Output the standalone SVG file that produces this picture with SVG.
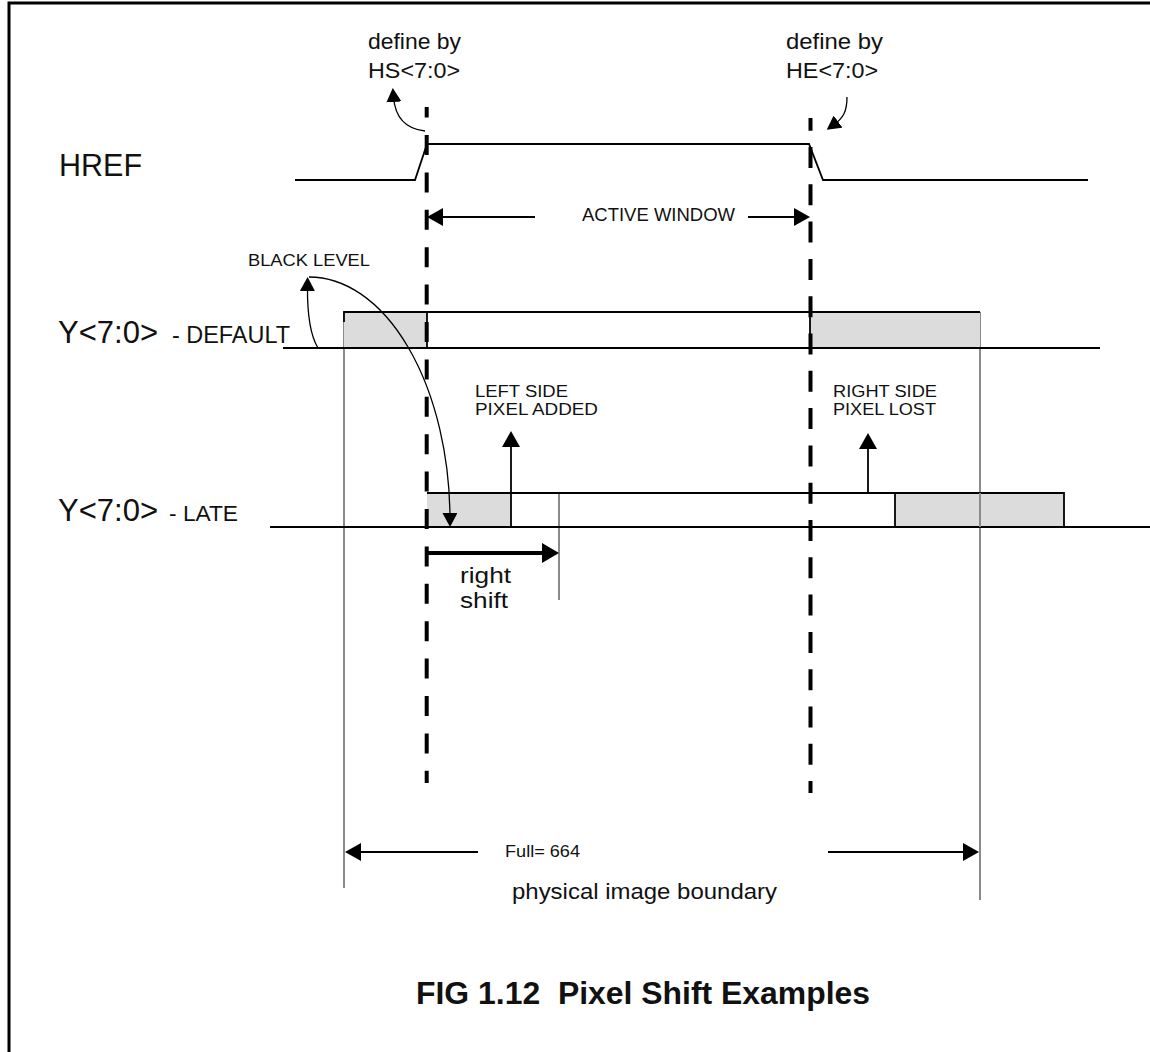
<svg xmlns="http://www.w3.org/2000/svg" width="1150" height="1052" viewBox="0 0 1150 1052">
<defs>
<style>
text{font-family:"Liberation Sans",Arial,sans-serif;fill:#111}
.sig{fill:none;stroke:#000;stroke-width:1.8}
.grey{fill:none;stroke:#8a8a8a;stroke-width:2}
.box{fill:#dcdcdc;stroke:none}
.dash{fill:none;stroke:#000;stroke-width:4}
.arr{fill:none;stroke:#000;stroke-width:1.8;marker-end:url(#ah)}
.thin{fill:none;stroke:#000;stroke-width:1.3;marker-end:url(#ahs)}
</style>
<marker id="ah" markerUnits="userSpaceOnUse" markerWidth="16" markerHeight="18" viewBox="0 0 16 18" refX="6" refY="9" orient="auto"><path d="M0,0 L16,9 L0,18 z" fill="#000"/></marker>
<marker id="ahb" markerUnits="userSpaceOnUse" markerWidth="17" markerHeight="20" viewBox="0 0 17 20" refX="6" refY="10" orient="auto"><path d="M0,0 L17,10 L0,20 z" fill="#000"/></marker>
<marker id="ahs" markerUnits="userSpaceOnUse" markerWidth="14" markerHeight="15" viewBox="0 0 14 15" refX="5" refY="7.5" orient="auto"><path d="M0,0 L14,7.5 L0,15 z" fill="#000"/></marker>
</defs>
<rect width="1150" height="1052" fill="#fff"/>
<g id="frame"><path d="M9,1052 V3 H1150" fill="none" stroke="#000" stroke-width="3"/></g>

<g id="boundary">
<line class="grey" x1="344" y1="312" x2="344" y2="888"/>
<line class="grey" x1="980" y1="312" x2="980" y2="900"/>
<line class="grey" x1="559" y1="493" x2="559" y2="600"/>
</g>

<g id="href">
<text x="59" y="176" font-size="32" textLength="83" lengthAdjust="spacingAndGlyphs">HREF</text>
<polyline class="sig" points="295,180 415,180 427,144 809,144 823,180 1088,180"/>
</g>

<g id="y-default">
<text x="58" y="343" font-size="32" textLength="100" lengthAdjust="spacingAndGlyphs">Y&lt;7:0&gt;</text>
<text x="172" y="343" font-size="24" textLength="118" lengthAdjust="spacingAndGlyphs">- DEFAULT</text>
<rect class="box" x="344" y="312" width="83" height="36"/>
<rect class="box" x="810" y="312" width="170" height="36"/>
<line class="sig" x1="344" y1="312" x2="980" y2="312"/>
<line class="sig" x1="283" y1="348" x2="1100" y2="348"/>
<line class="sig" x1="344" y1="311" x2="344" y2="322"/>
<line class="sig" x1="427" y1="312" x2="427" y2="348"/>
<line class="sig" x1="810" y1="312" x2="810" y2="348"/>
</g>

<g id="y-late">
<text x="58" y="521" font-size="31" textLength="100" lengthAdjust="spacingAndGlyphs">Y&lt;7:0&gt;</text>
<text x="169" y="521" font-size="22" textLength="69" lengthAdjust="spacingAndGlyphs">- LATE</text>
<rect class="box" x="427" y="493" width="84" height="34"/>
<rect class="box" x="895" y="493" width="169" height="34"/>
<line class="sig" x1="427" y1="493" x2="1064" y2="493"/>
<line class="sig" x1="270" y1="527" x2="1150" y2="527"/>
<line class="sig" x1="511" y1="493" x2="511" y2="527"/>
<line class="sig" x1="895" y1="493" x2="895" y2="527"/>
<line class="sig" x1="1064" y1="492" x2="1064" y2="527"/>
<line class="grey" x1="980" y1="493" x2="980" y2="527"/>
</g>

<g id="hs-marker">
<line class="dash" x1="426.7" y1="107" x2="426.7" y2="783" stroke-dasharray="20 17.4" stroke-dashoffset="9.4"/>
<text x="368" y="49" font-size="22" textLength="93" lengthAdjust="spacingAndGlyphs">define by</text>
<text x="368" y="78" font-size="22" textLength="92" lengthAdjust="spacingAndGlyphs">HS&lt;7:0&gt;</text>
</g>

<g id="he-marker">
<line class="dash" x1="810.5" y1="118" x2="810.5" y2="793" stroke-dasharray="21 16.3" stroke-dashoffset="8.3"/>
<text x="786" y="49" font-size="22" textLength="97" lengthAdjust="spacingAndGlyphs">define by</text>
<text x="786" y="78" font-size="22" textLength="92" lengthAdjust="spacingAndGlyphs">HE&lt;7:0&gt;</text>
</g>

<g id="labels">
<text x="582" y="221" font-size="17.5" textLength="153" lengthAdjust="spacingAndGlyphs">ACTIVE WINDOW</text>
<text x="248" y="266" font-size="17" textLength="122" lengthAdjust="spacingAndGlyphs">BLACK LEVEL</text>
<text x="475" y="397" font-size="16" textLength="93" lengthAdjust="spacingAndGlyphs">LEFT SIDE</text>
<text x="475" y="415" font-size="16" textLength="123" lengthAdjust="spacingAndGlyphs">PIXEL ADDED</text>
<text x="833" y="397" font-size="16" textLength="104" lengthAdjust="spacingAndGlyphs">RIGHT SIDE</text>
<text x="833" y="415" font-size="16" textLength="103" lengthAdjust="spacingAndGlyphs">PIXEL LOST</text>
<text x="460" y="583" font-size="22" textLength="51" lengthAdjust="spacingAndGlyphs">right</text>
<text x="460" y="608" font-size="22" textLength="48" lengthAdjust="spacingAndGlyphs">shift</text>
<text x="505" y="857" font-size="16.5" textLength="75" lengthAdjust="spacingAndGlyphs">Full= 664</text>
<text x="512" y="899" font-size="22" textLength="265" lengthAdjust="spacingAndGlyphs">physical image boundary</text>
<text x="416" y="1004" font-size="32" font-weight="bold" textLength="454" lengthAdjust="spacingAndGlyphs" xml:space="preserve">FIG 1.12  Pixel Shift Examples</text>
</g>

<g id="connectors">
<line class="arr" x1="535" y1="217" x2="437" y2="217"/>
<line class="arr" x1="748" y1="217" x2="800" y2="217"/>
<line class="arr" x1="478" y1="852" x2="355" y2="852"/>
<line class="arr" x1="828" y1="852" x2="969" y2="852"/>
<line class="arr" x1="511" y1="493" x2="511" y2="441"/>
<line class="arr" x1="868" y1="493" x2="868" y2="443"/>
<line x1="427" y1="553" x2="548" y2="553" fill="none" stroke="#000" stroke-width="4" marker-end="url(#ahb)"/>
<path class="thin" d="M318,348 Q307,330 307.5,286"/>
<path class="thin" d="M309,277 A141,243 0 0 1 450,518"/>
<path class="thin" d="M425,131 Q396,128 393.5,97"/>
<path class="thin" d="M847,97 C847,112 843,118 834,124.5"/>
</g>
</svg>
